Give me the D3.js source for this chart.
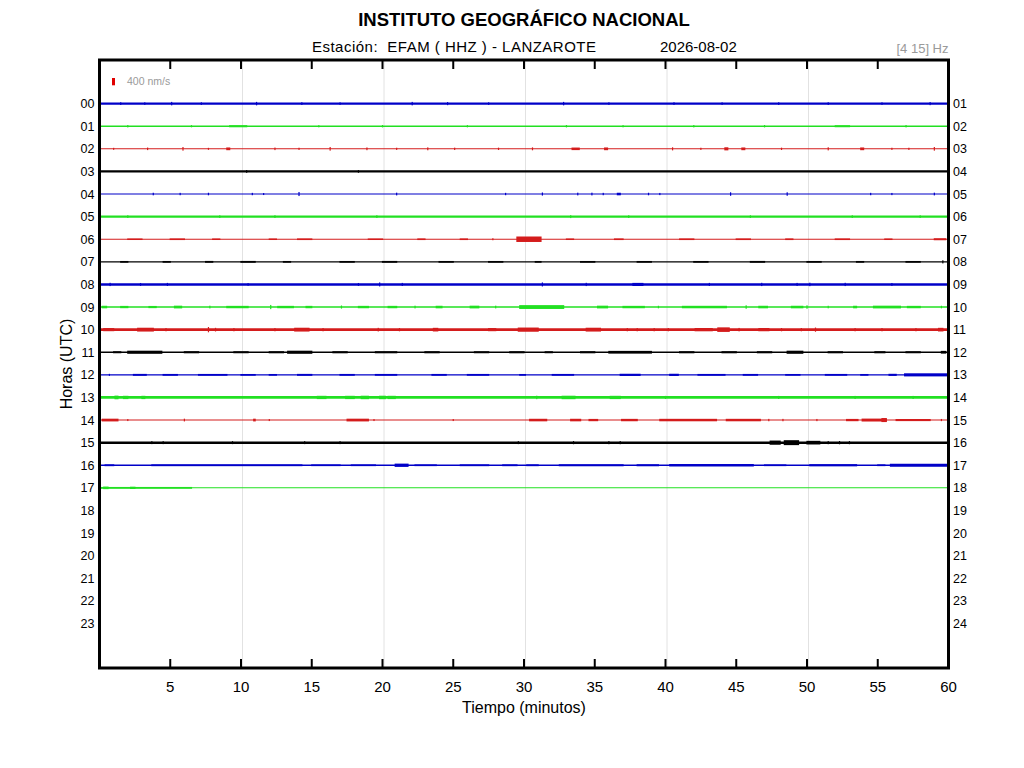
<!DOCTYPE html>
<html>
<head>
<meta charset="utf-8">
<script src="https://cdn.jsdelivr.net/npm/d3@7"></script>
<style>
  body { margin: 0; background: #fff; }
  text { font-family: "Liberation Sans", Arial, sans-serif; }
</style>
</head>
<body>
<div class="c_chart"></div>
<script>
/* DATA
------------------------------------------------------ */
const leftLabels = ["00","01","02","03","04","05","06","07","08","09","10","11",
                    "12","13","14","15","16","17","18","19","20","21","22","23"];
const rightLabels = ["01","02","03","04","05","06","07","08","09","10","11","12",
                     "13","14","15","16","17","18","19","20","21","22","23","24"];
const xTicks = [5,10,15,20,25,30,35,40,45,50,55,60];
const gridMinutes = [10,20,30,40,50];

// hours with a trace, and the background noise level of each (nm/s, peak to peak)
const traceHours = [0,1,2,3,4,5,6,7,8,9,10,11,12,13,14,15,16,17];
const baseNoise = [110,90,55,130,55,130,65,70,130,90,140,90,70,150,55,140,70,55];

// events per hour: [start min, end min, amplitude nm/s peak to peak]
const events = [
  [[1.5,1.5,150],[3.2,3.2,140],[5.1,5.1,190],[7.2,7.2,140],[11.1,11.1,190],[14.3,14.3,150],[17,17,140],[22.1,22.1,190],[24.6,24.6,170],[27.5,27.5,140],[32.8,32.8,190],[36,36,140],[40.6,40.6,150],[44,44,140],[48,48,150],[51.5,51.5,150],[55.3,55.3,140],[58.7,58.7,170]],
  [[2,2,130],[6.5,6.5,120],[9.2,10.4,115],[15.5,15.5,120],[20,20,130],[26,26,120],[33,33,130],[37,37,120],[42,42,130],[47,47,130],[52,53,110],[57,57,130]],
  [[1,1,110],[3.4,3.4,140],[5.9,5.9,200],[7.7,7.7,110],[9,9.2,150],[12.4,12.4,140],[14.1,14.1,120],[16.3,16.3,200],[18.9,18.9,150],[21,21,120],[23.2,23.2,160],[25.1,25.1,130],[28.2,28.2,130],[30.6,30.6,160],[33.4,33.9,140],[35.7,35.9,150],[40.5,40.5,170],[42.5,42.5,120],[44.2,44.4,170],[45.4,45.6,150],[48.2,48.2,130],[51.5,51.5,170],[53.8,54,150],[56,56,120],[57.2,57.2,120],[59,59,200]],
  [[10.4,10.4,150],[18.3,18.3,145]],
  [[3.8,3.8,140],[5.7,5.7,130],[7.7,7.7,140],[10.8,10.8,130],[11.6,11.6,110],[14.1,14.1,220],[21,21,150],[28.7,28.7,130],[31.3,31.3,170],[33.8,33.8,150],[34.8,34.8,150],[35.6,35.6,130],[36.6,36.8,140],[38.8,38.8,140],[39.6,39.6,120],[44.6,44.6,190],[48.6,48.6,190],[54.5,54.5,130],[56,56,120],[59,59,150]],
  [[2,2,150],[8.5,8.5,150],[12.4,12.4,150],[19.6,19.6,150],[33.3,33.3,160],[37.4,37.4,150],[46,46,150],[53.2,53.2,150],[58,58,150]],
  [[2,3,85],[5,6,90],[8,8.5,85],[12,12.5,85],[14,15,90],[19,20,85],[22.5,23,90],[25.5,26,90],[27.8,27.8,110],[29.5,31.2,300],[33,33.5,85],[36.4,37,90],[41,42,90],[45,46,90],[48.5,49,90],[52,53,90],[55.5,56,85],[59,59.8,110]],
  [[1.5,2,95],[4.5,5,95],[7.5,8,100],[10,11,100],[13,13.5,95],[17,18,95],[20,21,100],[24,25,95],[27.5,28.5,95],[30.8,31.2,95],[34,35,95],[38,39,95],[42,43,95],[46,47,100],[50,51,95],[53.5,54,95],[57,58,95],[59.6,59.6,170]],
  [[0.75,0.75,180],[2.9,2.9,160],[4.8,4.8,170],[10.5,10.5,150],[18.3,18.3,160],[19.8,19.8,220],[21.4,21.4,170],[31.3,31.3,220],[34.4,34.4,180],[37.7,38.4,170],[43.1,43.1,170],[46.8,46.8,180],[49.3,49.3,170],[50.2,50.2,190],[52.7,52.7,180],[56,56,160]],
  [[0.2,0.5,140],[1.5,2,125],[3.5,4,120],[5.3,5.8,150],[7.8,7.8,150],[9,10.5,130],[12.1,12.1,230],[12.6,13.7,130],[14.6,15,130],[17.1,17.1,170],[18.3,19,130],[20.4,21,130],[22.3,22.3,150],[23.8,24.2,140],[26.2,26.8,150],[28,28,150],[29.7,32.8,210],[35.2,35.9,150],[37,38.5,130],[39.5,39.5,140],[41.2,44.3,135],[45.7,45.7,190],[46.6,47.2,140],[48.9,49.7,140],[50,50,190],[51.5,51.5,140],[53.3,53.5,140],[54.7,56.6,150],[57.1,58,130],[59.5,59.5,140]],
  [[0.3,1,170],[2.7,3.8,210],[4.7,4.7,180],[7.7,7.7,290],[8.2,8.2,200],[9.5,9.5,180],[12.4,12.4,180],[13.8,14.8,210],[15.8,15.8,180],[19.7,19.7,200],[21.2,21.2,180],[23.6,23.9,200],[27.5,28,170],[29.6,31,230],[34.4,35.4,210],[37.3,37.3,180],[38,38,180],[39.2,39.2,180],[40.2,40.2,180],[42.1,43.3,180],[43.7,44.5,250],[45.2,45.2,190],[46.6,47.3,175],[48.2,48.2,180],[49.6,49.6,180],[50.6,50.6,230],[53.4,53.4,180],[55.3,55.3,180],[57.7,57.7,180],[59.3,59.6,200]],
  [[1,1.5,110],[2,4.4,170],[6,7,115],[9.5,10.5,110],[12,13,115],[13.3,15,170],[16.5,17.5,115],[19.5,21,115],[23,24,115],[26.5,27.5,110],[29,30,115],[31.5,32,110],[34,35,115],[36,39,150],[41,42,115],[44,45,115],[46.5,47.5,115],[48.6,49.7,170],[51.5,52.5,115],[54.8,55.5,115],[57,58,110],[59.5,59.8,150]],
  [[0.7,0.7,110],[2.4,3.3,105],[4.5,5.5,100],[7,9,100],[10,11,95],[12,12.5,95],[14,15,105],[17,18,100],[19.5,21,100],[23.5,24.5,100],[26,27.5,100],[29.7,30.1,95],[32,33.5,100],[36.8,38.2,120],[40.3,40.9,120],[42.3,44.2,100],[45.5,46.5,100],[48.5,49.5,95],[51.3,52.8,100],[53.8,54.3,95],[55.8,56.3,115],[56.9,59.9,170]],
  [[1.1,1.3,200],[1.7,2,180],[3,3.2,180],[15.4,16,180],[17.4,18,180],[18.5,19,190],[19.8,20.2,190],[20.4,20.9,180],[30.9,30.9,190],[32.7,33.6,190],[36.1,36.8,180],[40,40,170],[48,48,170],[53.4,53.4,170],[57.5,57.5,170]],
  [[0.2,1.3,150],[2,2,110],[6,6,150],[10.9,11,150],[12,12,110],[17.5,19,150],[19.4,19.4,110],[25,25,110],[30.4,31.6,140],[33.3,34,140],[34.6,35.2,125],[36.9,38,130],[39.6,43.6,135],[44.3,46.7,135],[47.3,47.3,130],[48.3,48.3,130],[50.7,50.7,120],[52.8,53.6,125],[53.9,55.6,160],[55.3,55.6,220],[56.3,58.7,115],[59.5,59.5,120]],
  [[3.7,3.7,160],[4.5,4.5,160],[9.4,9.4,160],[14.5,14.5,160],[17,17,160],[29.6,29.6,160],[33.5,33.5,170],[36,36,170],[36.8,36.8,170],[47.4,48.1,230],[48.4,49.4,270],[50,50.9,200],[51.5,51.5,170],[52.3,52.3,180],[53,53,170]],
  [[0.4,1,100],[3.7,14.3,100],[15,17,95],[17.8,19.5,95],[20.9,21.8,180],[22.3,23.8,95],[25.5,27.5,100],[28.5,29.5,100],[30.2,31,100],[32.5,37,110],[38,39.5,110],[40.3,46.2,135],[47,48.5,95],[50.2,53.5,120],[55,55.5,95],[55.9,59.9,165]],
  [[0,6.5,100],[0.3,0.6,140],[2.2,2.5,125]]
];

const scaleBarValue = 400; // nm/s

/* SVG, FORMAT
------------------------------------------------------ */
const width = 1024, height = 768;
const margin = {top:60, right:75.5, bottom:100, left:99.5};
const colors = ["#0000c8", "#22e022", "#d41c1c", "#000000"];

let svg = d3.select(".c_chart")
  .append("svg")
  .attr("width", width)
  .attr("height", height);

let x = d3.scaleLinear()
  .domain([0, 60])
  .range([margin.left, width - margin.right]);

let y = d3.scaleLinear()
  .domain([-1.93, 24.97])
  .range([margin.top, height - margin.bottom]);

// nm/s -> px
let amp = d3.scaleLinear()
  .domain([0, scaleBarValue])
  .range([0, 7.3]);

/* GRID, TICKS
------------------------------------------------------ */
svg.append("g")
  .selectAll("line")
  .data(gridMinutes)
  .join("line")
  .attr("x1", d => x(d) + 1.5).attr("x2", d => x(d) + 1.5)
  .attr("y1", y.range()[0]).attr("y2", y.range()[1])
  .attr("stroke", "#e2e2e2")
  .attr("stroke-width", 1);

let tickG = svg.append("g");
tickG.selectAll(".tt")
  .data(xTicks.slice(0, -1))
  .join("line")
  .attr("class", "tt")
  .attr("x1", d => x(d)).attr("x2", d => x(d))
  .attr("y1", y.range()[0]).attr("y2", y.range()[0] + 9)
  .attr("stroke", "#000").attr("stroke-width", 2);
tickG.selectAll(".tb")
  .data(xTicks.slice(0, -1))
  .join("line")
  .attr("class", "tb")
  .attr("x1", d => x(d)).attr("x2", d => x(d))
  .attr("y1", y.range()[1]).attr("y2", y.range()[1] - 9)
  .attr("stroke", "#000").attr("stroke-width", 2);

/* TRACES
------------------------------------------------------ */
let traces = svg.append("g")
  .selectAll("g")
  .data(traceHours)
  .join("g")
  .attr("fill", d => colors[d % 4])
  .attr("stroke", d => colors[d % 4]);

traces.append("line")
  .attr("x1", x(0)).attr("x2", x(60))
  .attr("y1", d => y(d)).attr("y2", d => y(d))
  .attr("stroke-width", (d, i) => Math.max(1, amp(baseNoise[i])));

traces.selectAll("rect")
  .data((d, i) => events[i].map(e => ({h: d, s: e[0], e: e[1], a: e[2]})))
  .join("rect")
  .attr("stroke", "none")
  .attr("x", d => x(d.s) - 0.6)
  .attr("width", d => Math.max(1.2, x(d.e) - x(d.s) + 1.2))
  .attr("y", d => y(d.h) - amp(d.a) / 2)
  .attr("height", d => amp(d.a));

/* FRAME
------------------------------------------------------ */
svg.append("rect")
  .attr("x", x(0)).attr("y", y.range()[0])
  .attr("width", x(60) - x(0))
  .attr("height", y.range()[1] - y.range()[0])
  .attr("fill", "none")
  .attr("stroke", "#000")
  .attr("stroke-width", 3);

/* LABELS
------------------------------------------------------ */
svg.append("g")
  .selectAll("text")
  .data(leftLabels)
  .join("text")
  .attr("x", x(0) - 5)
  .attr("y", (d, i) => y(i) + 4.5)
  .attr("text-anchor", "end")
  .attr("font-size", 12.5)
  .text(d => d);

svg.append("g")
  .selectAll("text")
  .data(rightLabels)
  .join("text")
  .attr("x", x(60) + 4.5)
  .attr("y", (d, i) => y(i) + 4.5)
  .attr("font-size", 12.5)
  .text(d => d);

svg.append("g")
  .selectAll("text")
  .data(xTicks)
  .join("text")
  .attr("x", d => x(d))
  .attr("y", y.range()[1] + 24)
  .attr("text-anchor", "middle")
  .attr("font-size", 15)
  .text(d => d);

svg.append("text")
  .attr("x", 524).attr("y", 26)
  .attr("text-anchor", "middle")
  .attr("font-size", 18.5).attr("font-weight", "bold")
  .text("INSTITUTO GEOGRÁFICO NACIONAL");

svg.append("text")
  .attr("x", 312).attr("y", 52)
  .attr("font-size", 15)
  .attr("textLength", 284)
  .attr("lengthAdjust", "spacing")
  .attr("xml:space", "preserve")
  .style("white-space", "pre")
  .text("Estación:  EFAM ( HHZ ) - LANZAROTE");

svg.append("text")
  .attr("x", 660).attr("y", 52)
  .attr("font-size", 15)
  .text("2026-08-02");

svg.append("text")
  .attr("x", x(60)).attr("y", 53)
  .attr("text-anchor", "end")
  .attr("font-size", 13)
  .attr("fill", "#9a9a9a")
  .text("[4 15] Hz");

// scale bar
svg.append("rect")
  .attr("x", 112).attr("y", 78)
  .attr("width", 3)
  .attr("height", amp(scaleBarValue))
  .attr("fill", "#e00000");
svg.append("text")
  .attr("x", 127).attr("y", 85)
  .attr("font-size", 10.5)
  .attr("fill", "#9a9a9a")
  .text(scaleBarValue + " nm/s");

svg.append("text")
  .attr("x", 524).attr("y", 713)
  .attr("text-anchor", "middle")
  .attr("font-size", 16)
  .text("Tiempo (minutos)");

svg.append("text")
  .attr("transform", "translate(72,364) rotate(-90)")
  .attr("text-anchor", "middle")
  .attr("font-size", 16)
  .text("Horas (UTC)");
</script>
</body>
</html>
